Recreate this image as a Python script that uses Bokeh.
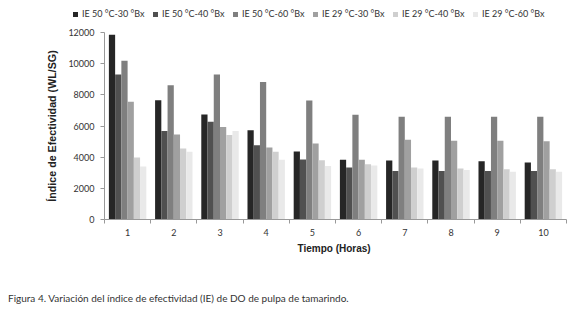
from bokeh.plotting import figure
from bokeh.models import ColumnDataSource, FixedTicker, Div
from bokeh.layouts import column
from bokeh.transform import dodge
from bokeh.embed import file_html
from bokeh.resources import INLINE

hours = [1, 2, 3, 4, 5, 6, 7, 8, 9, 10]
series_names = ["IE 50 °C-30 °Bx", "IE 50 °C-40 °Bx", "IE 50 °C-60 °Bx",
                "IE 29 °C-30 °Bx", "IE 29 °C-40 °Bx", "IE 29 °C-60 °Bx"]
ie_50_30 = [11850, 7660, 6740, 5720, 4360, 3830, 3790, 3790, 3740, 3660]
ie_50_40 = [9300, 5680, 6280, 4770, 3850, 3340, 3110, 3110, 3110, 3110]
ie_50_60 = [10190, 8620, 9300, 8830, 7640, 6720, 6600, 6600, 6600, 6600]
ie_29_30 = [7550, 5450, 5940, 4620, 4870, 3830, 5110, 5060, 5060, 5020]
ie_29_40 = [3980, 4550, 5430, 4340, 3810, 3550, 3340, 3280, 3230, 3230]
ie_29_60 = [3400, 4340, 5680, 3830, 3430, 3470, 3280, 3170, 3060, 3060]
y_ticks = [0, 2000, 4000, 6000, 8000, 10000, 12000]
caption_text = "Figura 4. Variación del índice de efectividad (IE) de DO de pulpa de tamarindo."

series = [ie_50_30, ie_50_40, ie_50_60, ie_29_30, ie_29_40, ie_29_60]
colors = ["#262626", "#505050", "#7f7f7f", "#a0a0a0", "#cfcfcf", "#e9e9e9"]

data = {"x": hours}
for i, s in enumerate(series):
    data["s%d" % i] = s
source = ColumnDataSource(data)

font = "Lato"

# legend row (HTML, real text)
legend_items = "".join(
    '<span style="display:inline-block;width:80px;white-space:nowrap;">'
    '<span style="display:inline-block;width:5px;height:5px;background:%s;'
    'margin-right:4px;vertical-align:middle;"></span>%s</span>' % (c, n)
    for c, n in zip(colors, series_names))
legend_html = ('<div style="padding-left:73px;padding-top:4px;height:20px;line-height:20px;'
               'white-space:nowrap;font-family:Lato;font-size:9px;color:#333333;">%s</div>'
               % legend_items)
legend_div = Div(text=legend_html, width=580, height=24, margin=(0, 0, 0, 0))

p = figure(width=580, height=266, x_range=(0.5, 10.5), y_range=(0, 12000),
           output_backend="svg", toolbar_location=None,
           min_border_left=104, min_border_right=14, min_border_top=8, min_border_bottom=71)
p.outline_line_color = None
p.xgrid.grid_line_color = None
p.ygrid.grid_line_color = None
p.background_fill_color = "white"
p.border_fill_color = "white"

bw = 0.135
for i in range(6):
    p.vbar(x=dodge("x", (i - 2.5) * bw, range=p.x_range), top="s%d" % i, width=bw,
           bottom=0, source=source, fill_color=colors[i], line_color=None)

xa = p.xaxis[0]
xa.ticker = FixedTicker(ticks=hours, minor_ticks=[h - 0.5 for h in hours] + [10.5])
xa.major_tick_out = 0
xa.major_tick_in = 0
xa.minor_tick_out = 4
xa.minor_tick_in = 0
xa.axis_line_color = "#999999"
xa.minor_tick_line_color = "#999999"
xa.major_label_text_font = font
xa.major_label_text_font_size = "9px"
xa.major_label_text_color = "#333333"
xa.major_label_standoff = 5
xa.axis_label = "Tiempo  (Horas)"
xa.axis_label_text_font = "Liberation Sans"
xa.axis_label_text_font_style = "bold"
xa.axis_label_text_font_size = "10px"
xa.axis_label_text_color = "#222222"
xa.axis_label_standoff = 4

ya = p.yaxis[0]
ya.ticker = FixedTicker(ticks=y_ticks)
ya.minor_tick_out = 0
ya.minor_tick_in = 0
ya.major_tick_out = 4
ya.major_tick_in = 0
ya.axis_line_color = "#999999"
ya.major_tick_line_color = "#999999"
ya.major_label_text_font = font
ya.major_label_text_font_size = "9px"
ya.major_label_text_color = "#333333"
ya.major_label_standoff = 6
ya.axis_label = "Índice de Efectividad (WL/SG)"
ya.axis_label_text_font = "Liberation Sans"
ya.axis_label_text_font_style = "bold"
ya.axis_label_text_font_size = "10.7px"
ya.axis_label_text_color = "#222222"
ya.axis_label_standoff = 7

caption = Div(text=caption_text, width=572, height=16, margin=(0, 0, 0, 8),
              styles={"font-family": "Lato", "font-size": "10px", "color": "#333333",
                      "line-height": "16px", "white-space": "nowrap"})

layout = column(legend_div, p, caption, spacing=0)
open("out.html", "w").write(file_html(layout, INLINE))
